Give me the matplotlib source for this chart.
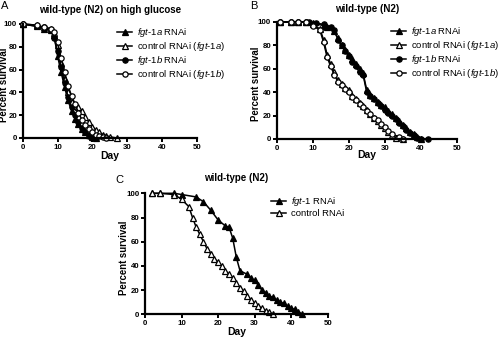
import matplotlib
matplotlib.use("Agg")
import matplotlib.pyplot as plt
from matplotlib.lines import Line2D

plt.rcParams['font.family'] = ['Liberation Sans', 'DejaVu Sans']
plt.rcParams['mathtext.fontset'] = 'custom'
plt.rcParams['mathtext.it'] = 'Liberation Sans:italic'
plt.rcParams['mathtext.rm'] = 'Liberation Sans'

# panel A: wild-type (N2) on high glucose
a_fgt1a_days = [0, 4, 6, 8, 9, 10, 11, 12, 13, 14, 15, 16, 17, 18, 19, 20, 21]
a_fgt1a_pct = [100, 98, 96, 95, 90, 72, 58, 45, 33, 24, 17, 12, 8, 5, 3, 1, 0]
a_ctl1a_days = [0, 4, 6, 8, 9, 10, 11, 12, 13, 14, 15, 16, 17, 18, 19, 20, 21, 22, 23, 24, 25, 27]
a_ctl1a_pct = [100, 99, 97, 96, 92, 82, 66, 52, 40, 32, 28, 27, 24, 18, 14, 10, 7, 5, 3, 2, 1, 0]
a_fgt1b_days = [0, 4, 6, 8, 9, 10, 11, 12, 13, 14, 15, 16, 17, 18, 19, 20]
a_fgt1b_pct = [100, 98, 97, 95, 88, 76, 62, 48, 36, 27, 20, 14, 9, 5, 2, 0]
a_ctl1b_days = [0, 4, 6, 8, 9, 10, 11, 12, 13, 14, 15, 16, 17, 18, 19, 20, 21, 22, 23, 24]
a_ctl1b_pct = [100, 99, 97, 96, 93, 84, 70, 58, 46, 37, 30, 22, 16, 11, 8, 5, 3, 2, 1, 0]

# panel B: wild-type (N2)
b_fgt1a_days = [1, 4, 6, 8, 10, 13, 14, 16, 17, 18, 19, 20, 21, 22, 23, 24, 25, 26, 27, 28,
                29, 30, 31, 32, 33, 34, 35, 36, 37, 38, 39, 40]
b_fgt1a_pct = [100, 100, 100, 100, 99, 97, 96, 92, 86, 80, 76, 72, 68, 64, 60, 56, 42, 38, 35, 32,
               29, 27, 24, 21, 18, 15, 12, 9, 6, 4, 2, 0]
b_ctl1a_days = [1, 4, 6, 8, 10, 12, 13, 14, 15, 16, 17, 18, 19, 20, 21, 22, 23, 24, 25, 26,
                27, 28, 29, 30, 31, 32, 33, 35]
b_ctl1a_pct = [100, 100, 100, 100, 98, 94, 85, 72, 64, 57, 50, 47, 44, 42, 37, 34, 31, 28, 25, 21,
               18, 15, 12, 9, 6, 3, 1, 0]
b_fgt1b_days = [1, 4, 6, 8, 9, 11, 13, 15, 16, 17, 18, 19, 20, 21, 22, 23, 24, 25, 26, 27,
                28, 29, 30, 31, 32, 33, 34, 35, 36, 37, 38, 39, 40, 42]
b_fgt1b_pct = [100, 100, 100, 100, 100, 99, 98, 96, 93, 85, 80, 75, 71, 66, 62, 57, 55, 40, 37, 34,
               31, 28, 25, 22, 20, 17, 14, 11, 8, 5, 3, 1, 0, 0]
b_ctl1b_days = [1, 4, 6, 8, 10, 12, 13, 14, 15, 16, 17, 18, 19, 20, 21, 22, 23, 24, 25, 26,
                27, 28, 29, 30, 31, 32, 34, 35]
b_ctl1b_pct = [100, 100, 100, 100, 97, 93, 83, 70, 62, 55, 49, 46, 43, 40, 36, 33, 30, 27, 24, 21,
               18, 16, 13, 10, 7, 4, 2, 0]

# panel C: wild-type (N2), fgt-1 vs control
c_fgt1_days = [2, 4, 8, 10, 14, 16, 18, 20, 22, 23, 24, 25, 26, 28, 29, 30, 31, 32, 33, 34,
               35, 36, 37, 38, 39, 40, 41, 42, 43]
c_fgt1_pct = [100, 100, 100, 99, 97, 93, 86, 78, 73, 72, 63, 47, 36, 33, 30, 28, 24, 20, 18, 15,
              14, 12, 10, 9, 7, 5, 4, 2, 0]
c_ctl_days = [2, 4, 8, 10, 12, 13, 14, 15, 16, 17, 18, 19, 20, 21, 22, 23, 24, 25, 26, 27,
              28, 29, 30, 31, 32, 33, 34, 35]
c_ctl_pct = [100, 100, 99, 95, 89, 80, 72, 66, 60, 54, 50, 46, 43, 40, 36, 33, 30, 26, 22, 19,
             15, 12, 9, 7, 5, 3, 2, 0]

labels_ab = [r'$\it{fgt}$-$\it{1a}$ RNAi', r'control RNAi ($\it{fgt}$-$\it{1a}$)',
             r'$\it{fgt}$-$\it{1b}$ RNAi', r'control RNAi ($\it{fgt}$-$\it{1b}$)']
labels_c = [r'$\it{fgt}$-$\it{1}$ RNAi', 'control RNAi']
styles = [('^', 'black'), ('^', 'white'), ('o', 'black'), ('o', 'white')]

W, H = 500, 337
fig = plt.figure(figsize=(5, 3.37), dpi=100)


def rect(x0, x1, y_top, y_bot):
    return [x0 / W, 1 - y_bot / H, (x1 - x0) / W, (y_bot - y_top) / H]


def style_axes(ax, ylab_x, xlab_y):
    for s in ['top', 'right']:
        ax.spines[s].set_visible(False)
    for s in ['left', 'bottom']:
        ax.spines[s].set_linewidth(1.6)
    ax.set_xlim(0, 50)
    ax.set_ylim(0, 100)
    ax.set_xticks(range(0, 51, 10))
    ax.set_yticks(range(0, 101, 20))
    ax.tick_params(width=1.4, length=3, labelsize=5.7, pad=1)
    for lab in ax.get_xticklabels() + ax.get_yticklabels():
        lab.set_fontweight('bold')
    ax.set_xlabel('Day', fontsize=7.5, fontweight='bold')
    ax.set_ylabel('Percent survival', fontsize=6.9, fontweight='bold')
    ax.yaxis.set_label_coords(ylab_x, 0.47)
    ax.xaxis.set_label_coords(0.5, xlab_y)


def draw(ax, series, labels, leg_xy):
    handles = []
    for (d, p), (m, fc), lab in zip(series, styles, labels):
        ax.plot(d, p, color='black', lw=1.1, marker=m, ms=3.8, mfc=fc, mec='black',
                mew=0.9, clip_on=False)
        handles.append(Line2D([], [], color='black', lw=1.1, marker=m, ms=3.8, mfc=fc,
                              mec='black', mew=0.9, label=lab))
    fig.legend(handles=handles, loc='upper left', bbox_to_anchor=leg_xy, frameon=False,
               fontsize=6.8, handlelength=1.6, handletextpad=0.5, labelspacing=0.12,
               borderaxespad=0, borderpad=0)


axA = fig.add_axes(rect(22.7, 197, 24, 138))
style_axes(axA, -0.076, -0.11)
draw(axA, [(a_fgt1a_days, a_fgt1a_pct), (a_ctl1a_days, a_ctl1a_pct),
           (a_fgt1b_days, a_fgt1b_pct), (a_ctl1b_days, a_ctl1b_pct)],
     labels_ab, (117 / W, 1 - 26 / H))
axA.set_title('wild-type (N2) on high glucose', fontsize=7, fontweight='bold', pad=8)

axB = fig.add_axes(rect(276.7, 456.7, 22, 139))
style_axes(axB, -0.087, -0.098)
draw(axB, [(b_fgt1a_days, b_fgt1a_pct), (b_ctl1a_days, b_ctl1a_pct),
           (b_fgt1b_days, b_fgt1b_pct), (b_ctl1b_days, b_ctl1b_pct)],
     labels_ab, (391 / W, 1 - 25 / H))
axB.set_title('wild-type (N2)', fontsize=7, fontweight='bold', pad=7)

axC = fig.add_axes(rect(145, 327.7, 193.3, 314.3))
style_axes(axC, -0.088, -0.105)
draw(axC, [(c_fgt1_days, c_fgt1_pct), (c_ctl_days, c_ctl_pct)], labels_c,
     (271 / W, 1 - 195 / H))
axC.set_title('wild-type (N2)', fontsize=7, fontweight='bold', pad=9)

fig.text(1 / W, 1 - 1 / H, 'A', fontsize=8, va='top', ha='left')
fig.text(250 / W, 1 - 1 / H, 'B', fontsize=8, va='top', ha='left')
fig.text(115 / W, 1 - 175 / H, 'C', fontsize=8, va='top', ha='left')

fig.savefig('out.png', dpi=100)
